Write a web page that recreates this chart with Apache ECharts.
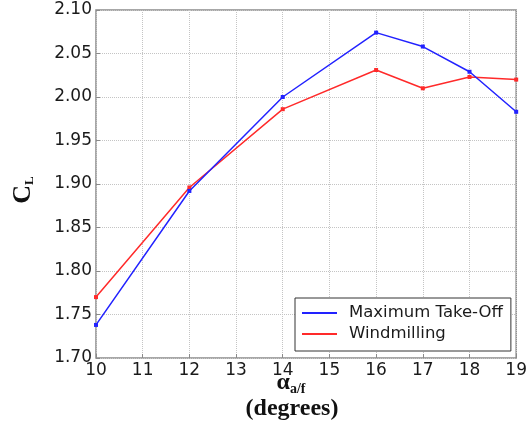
<!DOCTYPE html>
<html><head><meta charset="utf-8">
<script src="https://cdn.jsdelivr.net/npm/echarts@6/dist/echarts.min.js"></script>
<style>html,body{margin:0;padding:0;background:#fff}#c{width:530px;height:429px}</style>
</head><body><div id="c"></div>
<script>
const angles = [10, 12, 14, 16, 17, 18, 19];
const maxTakeOff = [1.738, 1.892, 2.000, 2.074, 2.058, 2.029, 1.983];
const windmilling = [1.770, 1.896, 1.986, 2.031, 2.010, 2.023, 2.020];
const seriesNames = ['Maximum Take-Off', 'Windmilling'];
const seriesColors = ['#2222ff', '#ff2a2a'];

const chart = echarts.init(document.getElementById('c'), null, {renderer: 'canvas'});
const pair = (xs, ys) => xs.map((x, i) => [x, ys[i]]);
const tickFont = {fontFamily: 'DejaVu Sans', fontSize: 17, color: '#1a1a1a'};
chart.setOption({
  animation: false,
  grid: {left: 96, right: 10, top: 10, bottom: 71, show: true, borderColor: '#8a8a8a', borderWidth: 1.5},
  xAxis: {
    type: 'value', min: 10, max: 19, interval: 1,
    axisLine: {show: false},
    axisTick: {show: true, inside: true, length: 4, lineStyle: {color: '#8a8a8a'}},
    axisLabel: Object.assign({margin: 4}, tickFont),
    splitLine: {show: true, lineStyle: {color: '#c4c4c4', type: 'dotted', width: 1}}
  },
  yAxis: {
    type: 'value', min: 1.70, max: 2.10, interval: 0.05,
    axisLine: {show: false},
    axisTick: {show: true, inside: true, length: 4, lineStyle: {color: '#8a8a8a'}},
    axisLabel: Object.assign({margin: 4, formatter: v => v.toFixed(2)}, tickFont),
    splitLine: {show: true, lineStyle: {color: '#c4c4c4', type: 'dotted', width: 1}}
  },
  legend: {
    orient: 'vertical', left: 295, top: 298,
    padding: [5, 8, 7, 7],
    borderColor: '#333', borderWidth: 1, backgroundColor: '#fff',
    itemWidth: 35, itemHeight: 2, itemGap: 1, icon: 'rect',
    textStyle: {fontFamily: 'DejaVu Sans', fontSize: 16.5, lineHeight: 20, color: '#1a1a1a', padding: [0, 0, 0, 7]},
    data: seriesNames
  },
  graphic: [
    {type: 'text', x: 23, y: 190, rotation: Math.PI / 2,
     style: {text: 'C{s|L}', fontFamily: 'Liberation Serif', fontWeight: 'bold', fontSize: 26, fill: '#111',
       align: 'center', verticalAlign: 'middle',
       rich: {s: {fontFamily: 'Liberation Serif', fontWeight: 'bold', fontSize: 13, fill: '#111', verticalAlign: 'bottom', padding: [12, 0, 0, 0]}}}},
    {type: 'text', x: 291, y: 383,
     style: {text: 'α{s|a/f}', fontFamily: 'Liberation Serif', fontWeight: 'bold', fontSize: 24, fill: '#111',
       align: 'center', verticalAlign: 'middle',
       rich: {s: {fontFamily: 'Liberation Serif', fontWeight: 'bold', fontSize: 14, fill: '#111', padding: [12, 0, 0, 0]}}}},
    {type: 'text', x: 292, y: 409,
     style: {text: '(degrees)', fontFamily: 'Liberation Serif', fontWeight: 'bold', fontSize: 24, fill: '#111',
       align: 'center', verticalAlign: 'middle'}}
  ],
  series: [
    {name: seriesNames[0], type: 'line', data: pair(angles, maxTakeOff), color: seriesColors[0],
     symbol: 'rect', symbolSize: 4, lineStyle: {width: 1.5}, z: 3},
    {name: seriesNames[1], type: 'line', data: pair(angles, windmilling), color: seriesColors[1],
     symbol: 'rect', symbolSize: 4, lineStyle: {width: 1.5}, z: 2}
  ]
});
</script></body></html>
